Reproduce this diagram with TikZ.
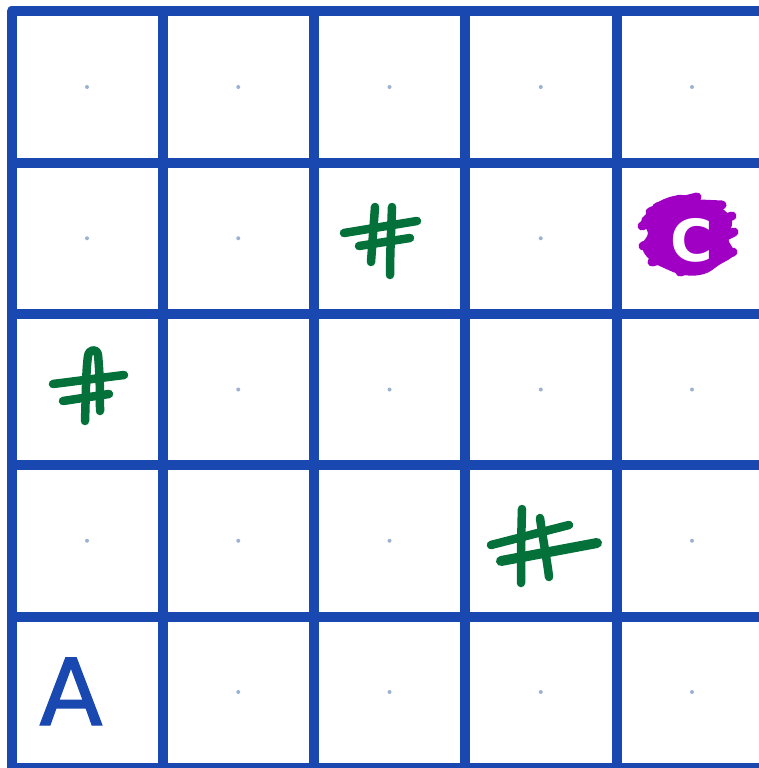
\documentclass[tikz,border=0pt]{standalone}
\usepackage{fontspec}
\newfontfamily\markfont{DejaVu Sans}
\newfontfamily\startfont[FakeBold=1.6]{DejaVu Sans}
\definecolor{gridblue}{HTML}{1848B0}
\definecolor{dotblue}{HTML}{9CB2D2}
\definecolor{hashgreen}{HTML}{04703A}
\definecolor{goalpurple}{HTML}{A000C4}
\tikzset{
  gridline/.style={draw=gridblue, line width=10pt, line join=round},
  hashstroke/.style={draw=hashgreen, line width=8.5pt, line cap=round, line join=round},
  scribble/.style={draw=goalpurple, line width=9pt, line cap=round, line join=round},
  celldot/.style={fill=dotblue, draw=none},
}
\begin{document}
\begin{tikzpicture}[x=1pt,y=-1pt]
\useasboundingbox (0,0) rectangle (759,768);
\clip (0,0) rectangle (759,768);
\fill[white] (0,0) rectangle (759,768);
% cell-centre dots
\foreach \r/\c in {0/0,0/1,0/2,0/3,0/4,1/0,1/1,1/3,2/1,2/2,2/3,2/4,3/0,3/1,3/2,3/4,4/1,4/2,4/3,4/4}{
  \fill[celldot] ({87+151.25*\c},{87+151.25*\r}) circle (2pt);
}
% grid
\foreach \i in {1,...,5}{
  \draw[gridline] ({11.5+151.25*\i},11.5) -- ({11.5+151.25*\i},790);
  \draw[gridline] (11.5,{11.5+151.25*\i}) -- (790,{11.5+151.25*\i});
}
\draw[gridline] (790,11.5) -- (11.5,11.5) -- (11.5,790);
% hash in row 1, col 2
\draw[hashstroke] (375,207) -- (371,262);
\draw[hashstroke] (392,207) .. controls (391,235) and (390,255) .. (390,275);
\draw[hashstroke] (344,233) -- (417,221);
\draw[hashstroke] (359,246) -- (410,238);
% hash in row 2, col 0
\draw[hashstroke] (85,421) .. controls (86,390) and (86,370) .. (88,356)
  .. controls (89,349) and (97,348) .. (98,355) .. controls (100,375) and (100,395) .. (100,411);
\draw[hashstroke] (53,384) -- (124,375);
\draw[hashstroke] (63,401) -- (109,394);
% hash in row 3, col 3
\draw[hashstroke] (522,509) .. controls (521,540) and (521,565) .. (521,583);
\draw[hashstroke] (540,518) .. controls (543,540) and (547,560) .. (549,577);
\draw[hashstroke] (491,545) -- (569,525);
\draw[hashstroke, line width=10pt] (501,561) -- (597,543);
% purple scribble
\fill[goalpurple] plot[smooth cycle, tension=0.7] coordinates {
  (646,214) (660,201) (683,195) (702,201) (720,207) (732,221) (728,238)
  (734,254) (719,265) (704,274) (684,275) (664,268) (649,259) (642,246) (648,233) (641,222)};
\draw[scribble] (650,212) -- (680,199);
\draw[scribble] (657,207) -- (697,197);
\draw[scribble] (700,204) -- (722,205);
\draw[scribble] (642,226) -- (668,214);
\draw[scribble] (714,222) -- (732,216);
\draw[scribble] (718,240) -- (734,232);
\draw[scribble] (643,246) -- (660,240);
\draw[scribble] (716,258) -- (733,252);
\draw[scribble] (652,262) -- (675,256);
\draw[scribble] (680,272) -- (712,262);
\node[anchor=base, inner sep=0pt, text=white, font=\markfont\bfseries\fontsize{58}{58}\selectfont] (goal) at (692,261) {C};
% start letter
\node[anchor=base, inner sep=0pt, text=gridblue, font=\startfont\fontsize{92}{92}\selectfont] (start) at (71,725) {A};
\end{tikzpicture}
\end{document}
